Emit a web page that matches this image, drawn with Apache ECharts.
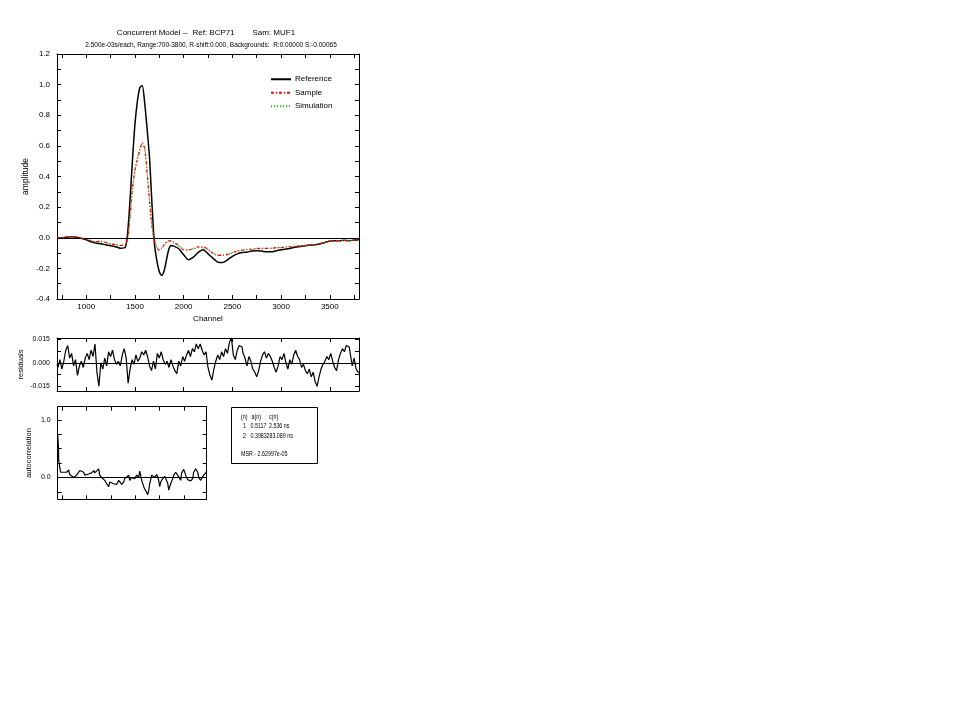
<!DOCTYPE html>
<html>
<head>
<meta charset="utf-8">
<script src="https://cdn.jsdelivr.net/npm/echarts@6/dist/echarts.min.js"></script>
<style>html,body{margin:0;padding:0;background:#fff}#c{width:959px;height:719px}</style>
</head>
<body>
<div id="c"></div>
<script>
// ---- data ----
const channels = [700,750,800,850,900,950,1000,1050,1100,1150,1200,1250,1300,1350,1400,
  1425,1450,1475,1500,1525,1550,1575,1600,1625,1650,1675,1700,1725,1750,1775,1800,1825,1850,1875,1900,
  1950,2000,2050,2100,2150,2200,2250,2300,2350,2400,2450,2500,2550,2600,2650,2700,2750,2800,2850,2900,
  2950,3000,3050,3100,3150,3200,3250,3300,3350,3400,3450,3500,3550,3600,3650,3700,3750,3800];
const reference = [0.0,0.0,0.004,0.006,0.004,-0.004,-0.013,-0.026,-0.035,-0.039,-0.046,-0.052,-0.059,-0.068,-0.063,
  0.03,0.25,0.51,0.74,0.89,0.98,0.995,0.88,0.71,0.52,0.22,-0.04,-0.15,-0.22,-0.245,-0.215,-0.14,-0.07,-0.05,-0.055,
  -0.072,-0.111,-0.144,-0.127,-0.096,-0.079,-0.105,-0.133,-0.159,-0.162,-0.144,-0.122,-0.105,-0.096,-0.094,-0.087,-0.085,-0.087,-0.092,-0.092,
  -0.085,-0.079,-0.074,-0.068,-0.061,-0.057,-0.052,-0.048,-0.046,-0.039,-0.031,-0.022,-0.020,-0.020,-0.017,-0.020,-0.015,-0.013];
const sample = [0.0,0.002,0.006,0.008,0.004,-0.003,-0.010,-0.020,-0.025,-0.022,-0.030,-0.040,-0.045,-0.050,-0.042,
  0.0,0.15,0.33,0.44,0.51,0.57,0.62,0.58,0.42,0.23,0.07,-0.02,-0.065,-0.083,-0.07,-0.045,-0.03,-0.02,-0.02,-0.03,
  -0.050,-0.080,-0.080,-0.070,-0.060,-0.060,-0.075,-0.100,-0.115,-0.115,-0.110,-0.100,-0.085,-0.080,-0.075,-0.075,-0.070,-0.070,-0.070,-0.070,
  -0.065,-0.065,-0.060,-0.060,-0.055,-0.055,-0.050,-0.050,-0.045,-0.040,-0.030,-0.020,-0.020,-0.018,-0.018,-0.020,-0.015,-0.012];
const simulation = [0.0,0.002,0.004,0.006,0.004,-0.003,-0.010,-0.020,-0.028,-0.028,-0.032,-0.038,-0.045,-0.050,-0.044,
  -0.01,0.12,0.30,0.44,0.52,0.58,0.61,0.59,0.44,0.25,0.08,-0.01,-0.06,-0.075,-0.065,-0.042,-0.027,-0.022,-0.025,-0.035,
  -0.055,-0.075,-0.080,-0.072,-0.065,-0.065,-0.080,-0.100,-0.112,-0.112,-0.105,-0.095,-0.088,-0.082,-0.078,-0.075,-0.072,-0.070,-0.070,-0.068,
  -0.066,-0.064,-0.060,-0.058,-0.055,-0.052,-0.050,-0.048,-0.045,-0.040,-0.032,-0.025,-0.020,-0.018,-0.017,-0.017,-0.015,-0.013];
const xLabelValues = [1000,1500,2000,2500,3000,3500];
const xTickValues = [750,1000,1250,1500,1750,2000,2250,2500,2750,3000,3250,3500,3750];
const yTickValues = [-0.4,-0.3,-0.2,-0.1,0,0.1,0.2,0.3,0.4,0.5,0.6,0.7,0.8,0.9,1.0,1.1,1.2];
const yLabelValues = [-0.4,-0.2,0,0.2,0.4,0.6,0.8,1.0,1.2];

const residualStart = 700, residualStep = 20;
const residuals = [-1,-3,2,-4,1,8,11,3,6,-2,2,-8,-2,1,-3,3,6,2,8,4,12,-6,-15,0,-4,3,-2,7,4,8,
  2,-1,1,-2,5,9,3,-13,-4,2,-1,5,1,3,7,5,8,4,-2,-5,1,-4,6,3,7,2,-1,1,-3,2,
  -2,-5,-7,1,-2,4,1,5,8,4,9,7,12,9,12,8,5,7,-3,-8,-11,-4,1,5,2,7,4,9,6,13,
  16,5,2,8,11,10,6,3,-2,4,1,-4,-6,-9,-5,1,5,7,3,6,4,1,-3,-6,-2,4,2,6,0,-4,
  2,-1,5,8,4,2,-3,-1,-5,-7,-4,-9,-6,-12,-15,-9,-4,-1,1,4,2,6,1,-3,-5,2,6,9,7,11,
  10,6,-2,3,-4,-6];
const residualTicks = [-0.015,0.0,0.015];
const residualMinorTicks = [-0.015,-0.0075,0,0.0075,0.015];

const acfLags = [0,0.7,1,2,3,4,6,7,9,11,12,14,16,17,19,22,23,26,27,29,31,32,34,36,37,39,41,42,44,46,47,49,51,52,54,56,57,59,61,62,64,66,67,69,71,72,74,76,77,79,81,82,84,86,87,89,90,91,92,94,96,97,99,101,102,103,105,107,108,110,111,113,115,116,118,120,121,123,124,126,127,128,130,131,133,135,136,138,140,141,143,145,146,148,149];
const acfValues = [0.74,0.55,0.30,0.18,0.09,0.12,0.09,0.12,0.09,0.13,0.05,0.02,0.0,0.0,0.04,0.12,0.15,0.09,0.04,0.05,0.06,0.09,0.08,0.12,0.08,0.11,0.15,0.04,0.0,0.0,-0.05,-0.11,-0.16,-0.08,-0.05,-0.11,-0.08,-0.12,-0.05,-0.08,-0.12,-0.08,-0.02,0.0,0.04,-0.05,0.0,0.02,-0.02,0.04,0.0,0.11,-0.05,-0.16,-0.20,-0.26,-0.30,-0.23,-0.11,0.04,0.03,0.0,0.05,-0.05,-0.16,-0.08,-0.02,0.02,-0.02,-0.10,-0.22,-0.11,-0.02,0.04,0.09,0.04,0.05,-0.05,0.08,0.14,0.12,0.04,-0.04,-0.05,-0.06,-0.02,0.09,0.15,0.09,0.0,-0.05,-0.02,0.04,0.08,0.11];
const acfTickValues = [4.3,28.7,53.1,77.5,101.9,126.3];
const acfYTicks = [-0.25,0,0.25,0.5,0.75,1.0];
const acfYLabels = [0,1.0];

const titleText = 'Concurrent Model --  Ref: BCP71        Sam: MUF1';
const subtitleText = '2.500e-03s/each, Range:700-3800, R-shift:0.000, Backgrounds:  R:0.00000 S:-0.00065';
const fitRows = [['(n)','a(n)','c(n)'],['1','0.5117','2.536 ns'],['2','0.3983','283.089 ns']];
const msrText = 'MSR - 2.62997e-05';

// ---- chart ----
const FF = '"Liberation Sans", Arial, sans-serif';
const chart = echarts.init(document.getElementById('c'), null, {renderer:'canvas'});
function xAx(grid, pos, min, max, ticks, labels, name){
  return {type:'value', gridIndex:grid, position:pos, min:min, max:max,
    axisLine:{show:true,onZero:false,lineStyle:{color:'#000',width:1}},
    axisTick:{show:true,inside:true,length:4,customValues:ticks,lineStyle:{color:'#000'}},
    axisLabel:labels?{show:true,customValues:labels,color:'#000',fontSize:8,fontFamily:FF,margin:4,formatter:v=>String(v)}:{show:false},
    splitLine:{show:false},
    name:name||'', nameLocation:'middle', nameGap:16, nameTextStyle:{color:'#000',fontSize:8,fontFamily:FF}};
}
function yAx(grid, pos, min, max, ticks, labels, fmt, name, gap, fs){
  return {type:'value', gridIndex:grid, position:pos, min:min, max:max,
    axisLine:{show:true,onZero:false,lineStyle:{color:'#000',width:1}},
    axisTick:{show:true,inside:true,length:4,customValues:ticks,lineStyle:{color:'#000'}},
    axisLabel:labels?{show:true,customValues:labels,color:'#000',fontSize:fs||8,fontFamily:FF,margin:7,formatter:fmt}:{show:false},
    splitLine:{show:false},
    name:name||'', nameLocation:'middle', nameGap:gap||30, nameRotate:90,
    nameTextStyle:{color:'#000',fontSize:name==='amplitude'?8.5:7.5,fontFamily:FF}};
}
const zeroLine = {silent:true, symbol:['none','none'], label:{show:false},
  lineStyle:{color:'#000',type:'solid',width:1}, data:[{yAxis:0}]};
function txt(x, y, s){
  return {type:'text', x:x, y:y, scaleX:0.82, style:{text:s,fontSize:6.5,fontFamily:FF,fill:'#000'}};
}

const option = {
  backgroundColor:'#fff',
  animation:false,
  title:[
    {text:titleText, left:206, top:29, padding:0, textAlign:'center', textStyle:{fontSize:8,fontWeight:'normal',color:'#000',fontFamily:FF}},
    {text:subtitleText, left:211, top:42, padding:0, textAlign:'center', textStyle:{fontSize:6.5,fontWeight:'normal',color:'#000',fontFamily:FF}}
  ],
  legend:{data:['Reference','Sample','Simulation'], orient:'vertical', left:270, top:74, itemWidth:20, itemHeight:6, itemGap:3, padding:0,
    itemStyle:{opacity:0},
    textStyle:{fontSize:8,color:'#000',fontFamily:FF,lineHeight:10.5,padding:[0,0,0,-1]}},
  grid:[
    {left:57, top:54, width:302, height:245},
    {left:57, top:338, width:302, height:53},
    {left:57.7, top:406.7, width:149, height:92.6}
  ],
  xAxis:[
    xAx(0,'bottom',700,3800,xTickValues,xLabelValues,'Channel'),
    xAx(0,'top',700,3800,xTickValues,null),
    xAx(1,'bottom',700,3800,xLabelValues,null),
    xAx(1,'top',700,3800,xLabelValues,null),
    xAx(2,'bottom',0,149,acfTickValues,null),
    xAx(2,'top',0,149,acfTickValues,null)
  ],
  yAxis:[
    yAx(0,'left',-0.4,1.2,yTickValues,yLabelValues,v=>v.toFixed(1),'amplitude',27,8),
    yAx(0,'right',-0.4,1.2,yTickValues,null),
    yAx(1,'left',-0.018,0.0158,residualMinorTicks,residualTicks,v=>v.toFixed(3),'residuals',32,7),
    yAx(1,'right',-0.018,0.0158,residualMinorTicks,null),
    yAx(2,'left',-0.38,1.23,acfYTicks,acfYLabels,v=>v.toFixed(1),'autocorrelation',25,7),
    yAx(2,'right',-0.38,1.23,acfYTicks,null)
  ],
  graphic:[
    {type:'rect', shape:{x:231.5,y:407.5,width:86,height:56}, style:{fill:'#fff',stroke:'#000',lineWidth:1}},
    txt(241,414,fitRows[0][0]), txt(251.5,414,fitRows[0][1]), txt(269,414,fitRows[0][2]),
    txt(243,423,fitRows[1][0]), txt(250.5,423,fitRows[1][1]), txt(269,423,fitRows[1][2]),
    txt(243,433,fitRows[2][0]), txt(250.5,433,fitRows[2][1]), txt(266.5,433,fitRows[2][2]),
    txt(241,451,msrText)
  ],
  series:[
    {name:'Reference', type:'line', xAxisIndex:0, yAxisIndex:0, symbol:'none', smooth:0.25,
      data:channels.map((c,i)=>[c,reference[i]]), lineStyle:{color:'#000',width:1.5}, itemStyle:{color:'#000'},
      markLine:zeroLine, z:3},
    {name:'Simulation', type:'line', xAxisIndex:0, yAxisIndex:0, symbol:'none', smooth:0.25,
      data:channels.map((c,i)=>[c,simulation[i]]), lineStyle:{color:'#00cc00',width:1.2,type:[1,2]}, itemStyle:{color:'#00cc00'}, z:4},
    {name:'Sample', type:'line', xAxisIndex:0, yAxisIndex:0, symbol:'none', smooth:0.25,
      data:channels.map((c,i)=>[c,sample[i]]), lineStyle:{color:'#ff0000',width:1.2,type:[3,2,1,2]}, itemStyle:{color:'#ff0000'}, z:5},
    {name:'res', type:'line', xAxisIndex:2, yAxisIndex:2, symbol:'none', step:'middle',
      data:residuals.map((v,i)=>[residualStart+i*residualStep, v/1000]), lineStyle:{color:'#000',width:1.2},
      markLine:zeroLine},
    {name:'acf', type:'line', xAxisIndex:4, yAxisIndex:4, symbol:'none',
      data:acfLags.map((l,i)=>[l,acfValues[i]]), lineStyle:{color:'#000',width:1.2},
      markLine:zeroLine}
  ]
};
chart.setOption(option);
</script>
</body>
</html>
